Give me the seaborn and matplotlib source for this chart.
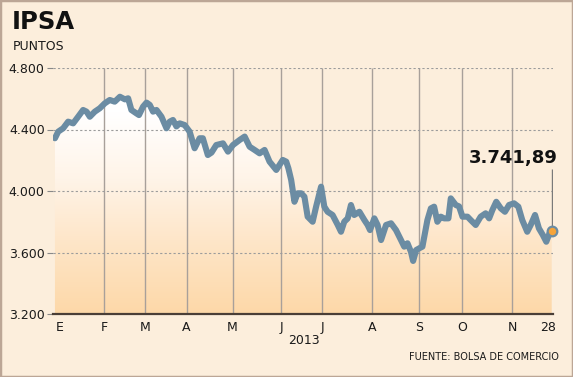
import numpy as np
import pandas as pd
import matplotlib
matplotlib.use("Agg")
import matplotlib.pyplot as plt
import seaborn as sns
from matplotlib.ticker import FuncFormatter
from matplotlib.colors import LinearSegmentedColormap
from matplotlib.patches import Rectangle

# ---- data (trading-session index, IPSA points) ----
session = [0.0, 1.5, 3.8, 6.1, 8.4, 10.7, 13.0, 14.6, 16.1, 18.4, 20.7, 23.0, 25.3,
           27.6, 30.0, 32.3, 33.8, 35.3, 37.6, 38.8, 40.7, 42.3, 43.8, 45.3, 46.9,
           49.2, 51.5, 53.0, 54.5, 56.1, 57.6, 59.9, 62.2, 64.5, 66.8, 68.3, 70.6,
           72.3, 74.5, 77.6, 79.9, 82.2, 85.3, 87.6, 89.9, 92.2, 94.5, 96.8, 99.1,
           102.2, 105.2, 106.8, 107.8, 109.1, 110.6, 112.1, 113.7, 115.2, 116.7,
           119.0, 120.6, 122.9, 124.4, 125.9, 128.2, 130.6, 132.1, 133.6, 135.2,
           136.7, 138.2, 140.6, 142.9, 144.4, 145.5, 147.5, 149.0, 150.6, 152.9,
           155.2, 157.5, 159.8, 161.3, 162.8, 164.4, 165.4, 166.8, 168.2, 169.7,
           172.0, 173.6, 175.1, 176.6, 178.2, 179.7, 181.7, 182.8, 185.1, 186.6,
           188.2, 190.5, 192.0, 194.3, 196.6, 198.9, 200.5, 202.0, 203.8, 205.9,
           207.8, 209.7, 212.0, 214.0, 215.8, 218.1, 219.7, 221.7, 223.5, 225.3,
           226.9, 228.4, 229.4]
ipsa = [4343, 4386, 4408, 4451, 4440, 4483, 4527, 4516, 4483, 4516, 4538, 4570, 4592,
        4581, 4613, 4596, 4603, 4527, 4505, 4494, 4549, 4575, 4560, 4516, 4527,
        4483, 4408, 4451, 4462, 4420, 4440, 4429, 4386, 4278, 4343, 4343, 4234,
        4250, 4299, 4310, 4256, 4299, 4332, 4354, 4288, 4267, 4245, 4267, 4191,
        4137, 4202, 4191, 4148, 4071, 3930, 3985, 3985, 3963, 3833,
        3800, 3898, 4028, 3898, 3865, 3844, 3779, 3735, 3800, 3822,
        3909, 3844, 3865, 3811, 3779, 3746, 3822, 3779, 3681, 3779,
        3790, 3746, 3681, 3638, 3660, 3605, 3545, 3616, 3627, 3638,
        3811, 3887, 3898, 3800, 3833, 3822, 3822, 3952, 3909, 3900,
        3833, 3833, 3811, 3779, 3833, 3855, 3822, 3876, 3930, 3887,
        3865, 3909, 3920, 3898, 3811, 3735, 3779, 3844, 3757, 3714,
        3670, 3725, 3741.89]

month_labels = ["E", "F", "M", "A", "M", "J", "J", "A", "S", "O", "N", "28"]
month_label_pos = [2.3, 22.6, 41.5, 60.8, 82.0, 104.6, 123.5, 146.5, 168.2, 188.0, 211.1, 227.5]
month_line_pos = [22.6, 41.5, 60.8, 82.0, 104.6, 123.5, 146.5, 168.2, 188.0, 211.1]
y_ticks = [3200, 3600, 4000, 4400, 4800]
y_grid = [3600, 4000, 4400, 4800]
last_label = "3.741,89"
title = "IPSA"
unit = "PUNTOS"
year = "2013"
source = "FUENTE: BOLSA DE COMERCIO"

# ---- style ----
BG = "#FCEEDC"
LINE = "#6B8CA3"
sns.set_style("white")
plt.rcParams["font.family"] = ["DejaVu Sans"]

W, H = 573, 377
fig = plt.figure(figsize=(W / 100, H / 100), dpi=100, facecolor=BG)
ax = fig.add_axes([53 / W, 1 - 314 / H, 500 / W, 246 / H])
ax.set_facecolor("none")

x0, x1 = -0.9, 230.0
y0, y1 = 3200, 4800
ax.set_xlim(x0, x1)
ax.set_ylim(y0, y1)

df = pd.DataFrame({"session": session, "ipsa": ipsa})

# gradient area under line
poly = ax.fill_between(df["session"], df["ipsa"], y0, color="none", lw=0)
cmap = LinearSegmentedColormap.from_list(
    "g", [(0.0, "#FDD8A8"), (0.3, "#FEE6C9"), (0.55, "#FFF4E8"), (0.82, "#FFFFFF"), (1.0, "#FFFFFF")])
grad = np.linspace(0, 1, 256).reshape(-1, 1)
im = ax.imshow(grad, extent=[x0, x1, y0, y1], origin="lower", aspect="auto",
               cmap=cmap, zorder=1, interpolation="bilinear")
im.set_clip_path(poly.get_paths()[0], transform=ax.transData)

# grid
ax.vlines(month_line_pos, y0, y1, color="#A8A09A", lw=1.0, zorder=2)
ax.hlines(y_grid, x0, x1, color="#9C9C9C", lw=0.8, linestyles=(0, (2, 2)), zorder=2)

# line
sns.lineplot(data=df, x="session", y="ipsa", color=LINE, lw=4.4, ax=ax, zorder=4,
             solid_joinstyle="round", solid_capstyle="round")

# last point + label
ax.vlines(session[-1], ipsa[-1], 4140, color="#7A7A7A", lw=1.0, zorder=3)
ax.scatter([session[-1]], [ipsa[-1]], s=48, color="#F5A43A", edgecolor=LINE,
           linewidth=1.6, zorder=5, clip_on=False)
ax.text(232.3, 4212, last_label, ha="right", va="center", fontsize=13,
        fontweight="bold", color="#111111", clip_on=False)

# axes
for s in ["top", "right", "left"]:
    ax.spines[s].set_visible(False)
ax.spines["bottom"].set_color("#4A3E36")
ax.spines["bottom"].set_linewidth(1.6)
ax.set_yticks(y_ticks)
ax.yaxis.set_major_formatter(FuncFormatter(lambda v, p: f"{v:,.0f}".replace(",", ".")))
ax.tick_params(axis="y", length=4, width=0.8, color="#888888", pad=2, labelsize=9,
               labelcolor="#1A1A1A", left=True)
ax.set_xticks(month_label_pos)
ax.set_xticklabels(month_labels)
ax.tick_params(axis="x", length=0, pad=5, labelsize=9, labelcolor="#1A1A1A")
ax.set_xlabel("")
ax.set_ylabel("")
ax.grid(False)

# texts
fig.text(12 / W, 1 - 22 / H, title, fontsize=17.5, fontweight="bold", color="#111111",
         ha="left", va="center")
fig.text(13 / W, 1 - 47 / H, unit, fontsize=9, color="#1A1A1A", ha="left", va="center")
fig.text(304 / W, 1 - 341 / H, year, fontsize=9, color="#1A1A1A", ha="center", va="center")
fig.text(559 / W, 1 - 357 / H, source, fontsize=7, color="#1A1A1A", ha="right", va="center")

fig.patches.append(Rectangle((0, 0), 1, 1, transform=fig.transFigure, fill=False,
                             edgecolor="#BCA696", lw=2.5))

fig.savefig("out.png", dpi=100, facecolor=BG)
